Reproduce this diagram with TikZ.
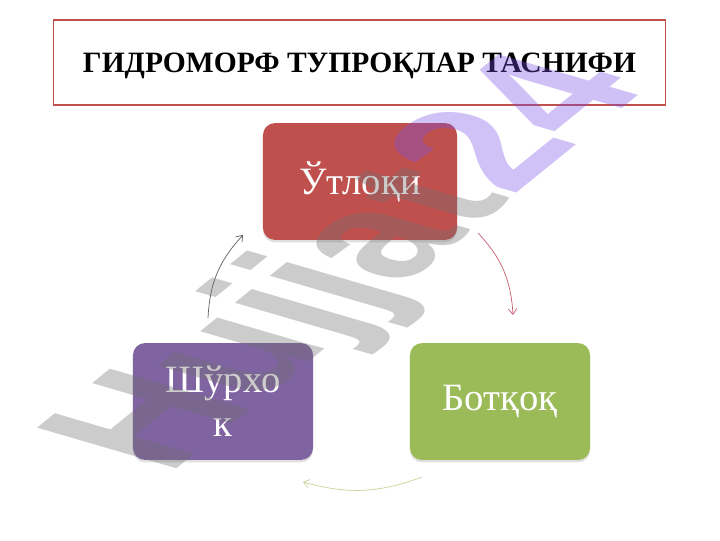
\documentclass[tikz,border=0pt]{standalone}
\usepackage{fontspec}
\setmainfont{Liberation Serif}
\newfontfamily\wmfont{Liberation Sans}
\usepackage{tikz}
\usetikzlibrary{arrows.meta, positioning, shadows, bending}
\definecolor{titleborder}{RGB}{192, 80, 77}
\definecolor{utred}{RGB}{192, 80, 77}
\definecolor{shpurple}{RGB}{128, 100, 162}
\definecolor{botgreen}{RGB}{155, 187, 89}
\definecolor{arrowgray}{RGB}{95, 95, 100}
\definecolor{arrowred}{RGB}{200, 90, 110}
\definecolor{arrowolive}{RGB}{200, 210, 150}
\definecolor{wmgray}{RGB}{110, 110, 110}
\definecolor{wmpurple}{RGB}{120, 80, 230}

\begin{document}
\begin{tikzpicture}[
    x=0.025cm, y=-0.025cm,
    titlebox/.style={rectangle, draw=titleborder, line width=1.2pt, fill=white, minimum width=15.3cm, minimum height=2.12cm, text depth=0pt, font=\fontsize{21}{24}\selectfont\bfseries},
    soilbox/.style={rectangle, rounded corners=0.3cm, minimum height=2.92cm, text=white, align=center, font=\fontsize{27.5}{31}\selectfont, drop shadow={shadow xshift=0pt, shadow yshift=-0.06cm, opacity=0.25}},
    cyclearrow/.style={-{Straight Barb[length=4pt, width=6pt, bend]}, line width=0.5pt}
]

\useasboundingbox (0,0) rectangle (720,540);

\node[titlebox] (title) at (359.5,62.5) {ГИДРОМОРФ ТУПРОҚЛАР ТАСНИФИ};

\node[soilbox, fill=utred, minimum width=4.85cm] (utloqi) at (360,181.5) {Ўтлоқи};
\node[soilbox, fill=shpurple, minimum width=4.5cm] (shurxok) at (223,401.5) {Шўрхо\\к};
\node[soilbox, fill=botgreen, minimum width=4.5cm] (botqoq) at (500,401.5) {Ботқоқ};

% free ends of the cycle arrows
\coordinate (shurxok-out) at (208,318);
\coordinate (utloqi-in) at (243,235);
\coordinate (utloqi-out) at (478,233);
\coordinate (botqoq-in) at (513,315);
\coordinate (botqoq-out) at (422,477);
\coordinate (shurxok-in) at (303,482);

\draw[cyclearrow, arrowgray] (shurxok-out) to[bend left=20] (utloqi-in);
\draw[cyclearrow, arrowred] (utloqi-out) to[bend left=20] (botqoq-in);
\draw[cyclearrow, arrowolive] (botqoq-out) to[bend left=18] (shurxok-in);

% watermark, slanted
\begin{scope}[shift={(168,476)}, cm={0.882,0.714,-1.440,0.420,(0,0)}]
  \node[anchor=base west, inner sep=0pt, transform shape, text opacity=0.35, font=\wmfont\fontsize{100}{100}\selectfont\bfseries] (watermark) at (0,0) {\textcolor{wmgray}{Hujjat}\textcolor{wmpurple}{24}};
\end{scope}

\end{tikzpicture}
\end{document}
